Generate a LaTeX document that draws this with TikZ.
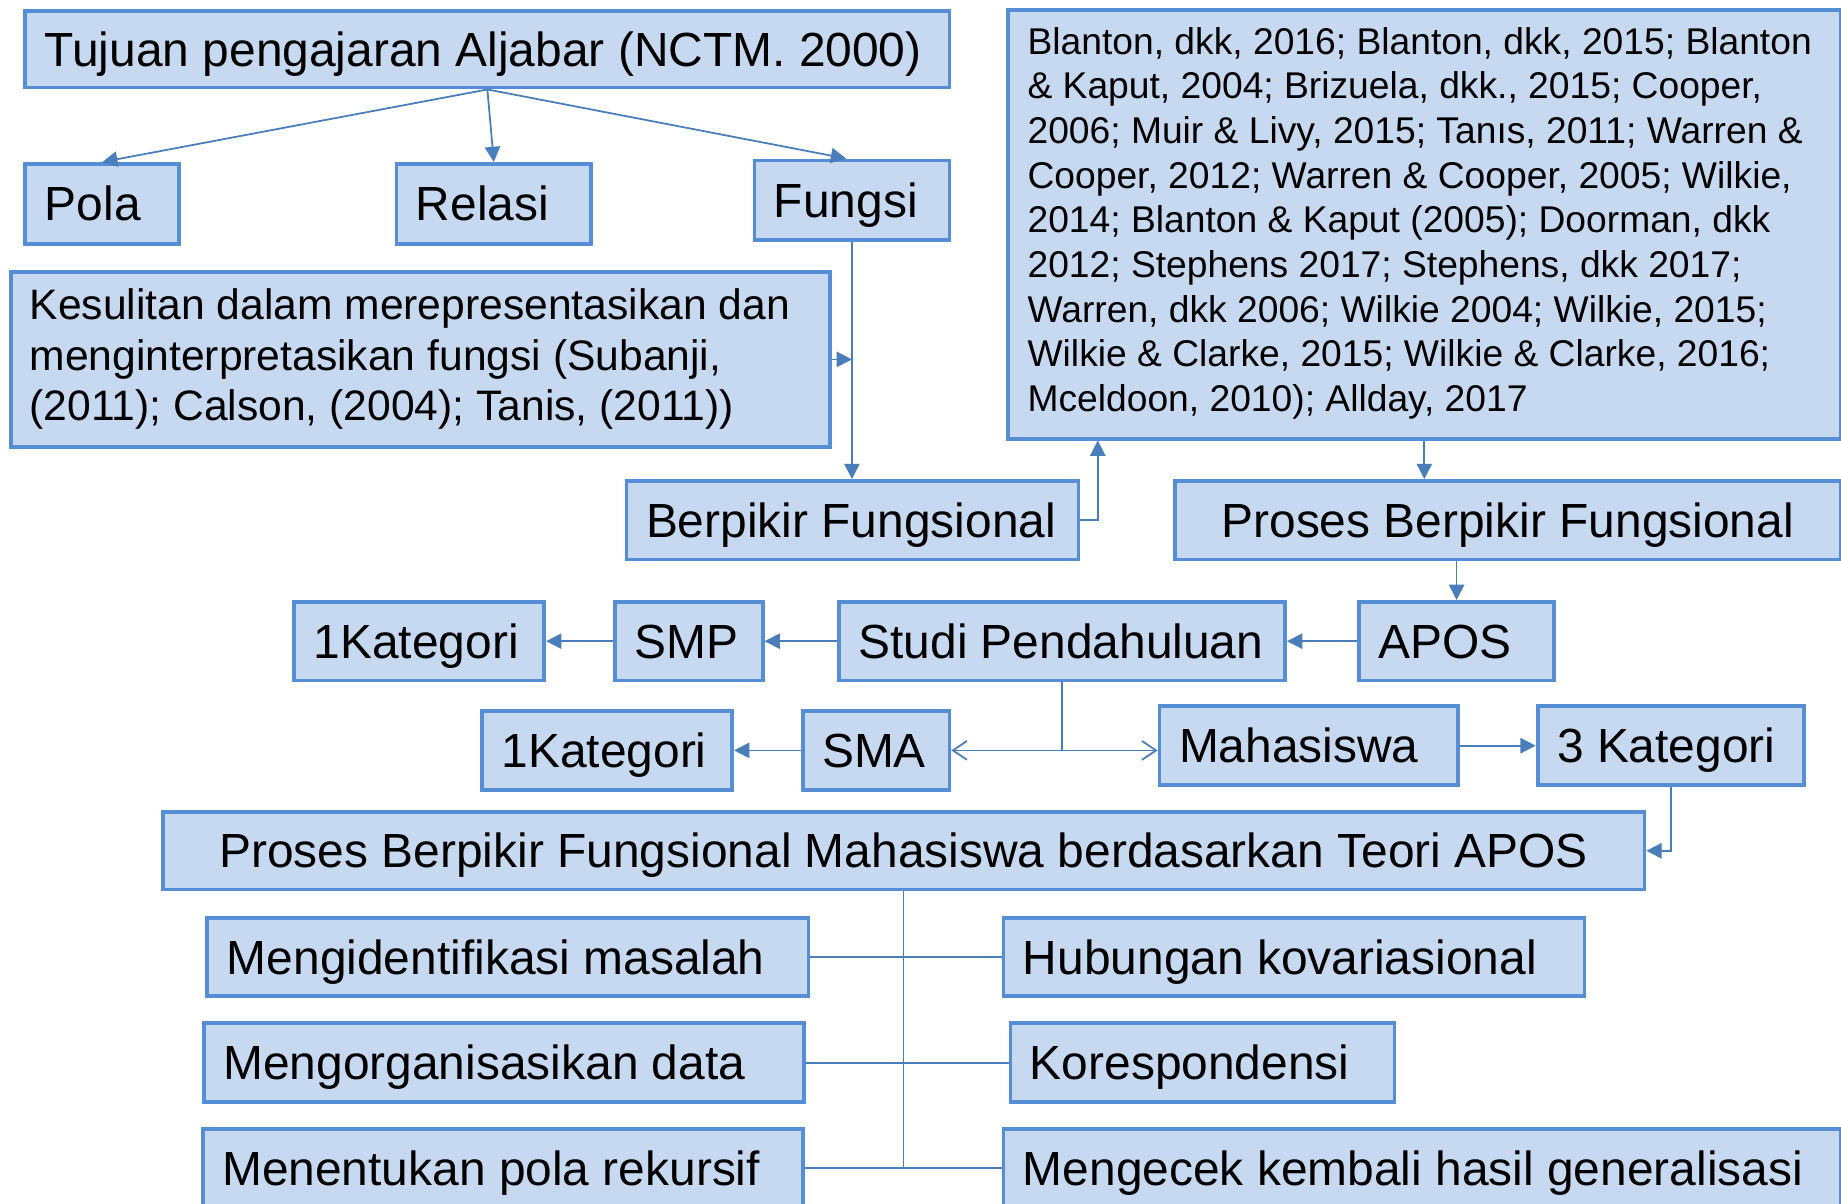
\documentclass[tikz,border=0pt]{standalone}
\usepackage{fontspec}
\setmainfont{Liberation Sans}
\usetikzlibrary{arrows.meta}
\definecolor{bordc}{HTML}{558ED5}
\definecolor{fillc}{HTML}{C6D9F1}
\definecolor{linec}{HTML}{4A7EBB}
\tikzset{
  bx/.style={draw=bordc, fill=fillc, line width=3.2pt, rectangle, anchor=north west, inner sep=0pt},
  lbl/.style={inner sep=0pt, font=\fontsize{40.8}{48}\selectfont},
  ln/.style={draw=linec, line width=1.5pt},
  arr/.style={ln, -{Triangle[length=13pt,width=13pt]}},
  oarr/.style={ln, -{Straight Barb[length=12pt,width=16pt]}}
}
% name, x, y, w, h, text  (left-aligned label)
\newcommand\bxl[6]{%
  \node[bx,minimum width=#4pt,minimum height=#5pt] (#1) at (#2,#3) {};
  \node[lbl,anchor=base west] (#1t) at ([xshift=18pt,yshift=-14.5pt]#1.west) {#6};}
% centred label
\newcommand\bxc[6]{%
  \node[bx,minimum width=#4pt,minimum height=#5pt] (#1) at (#2,#3) {};
  \node[lbl,anchor=base] (#1t) at ([yshift=-14.5pt]#1.center) {#6};}
\begin{document}
\begin{tikzpicture}[x=1pt,y=-1pt]
\useasboundingbox (0,0) rectangle (1568,1025);
\fill[white] (0,0) rectangle (1568,1025);
% top
\bxl{tuj}{20}{8}{787}{65}{Tujuan pengajaran Aljabar (NCTM. 2000)}
\bxl{pola}{20}{138}{131}{68}{Pola}
\bxl{rel}{336}{138}{166}{68}{Relasi}
\bxl{fun}{641}{135}{166}{68}{Fungsi}
\node[bx,minimum width=697pt,minimum height=149pt] (kes) at (8,230) {};
\node[lbl,anchor=west,align=left,font=\fontsize{36.3}{43}\selectfont] (kest) at ([xshift=17pt]kes.west)
  {Kesulitan dalam merepresentasikan dan\\menginterpretasikan fungsi (Subanji,\\(2011); Calson, (2004); Tanis, (2011))};
\node[bx,minimum width=709pt,minimum height=365pt] (refs) at (857,7) {};
\node[lbl,anchor=west,align=left,font=\fontsize{31.7}{38}\selectfont] (refst) at ([xshift=18pt,yshift=1pt]refs.west)
  {Blanton, dkk, 2016; Blanton, dkk, 2015; Blanton\\
   \& Kaput, 2004; Brizuela, dkk., 2015; Cooper,\\
   2006; Muir \& Livy, 2015; Tanıs, 2011; Warren \&\\
   Cooper, 2012; Warren \& Cooper, 2005; Wilkie,\\
   2014; Blanton \& Kaput (2005); Doorman, dkk\\
   2012; Stephens 2017; Stephens, dkk 2017;\\
   Warren, dkk 2006; Wilkie 2004; Wilkie, 2015;\\
   Wilkie \& Clarke, 2015; Wilkie \& Clarke, 2016;\\
   Mceldoon, 2010); Allday, 2017};
\bxl{berp}{532}{408}{385}{67}{Berpikir Fungsional}
\bxc{pbf}{999}{408}{567}{67}{Proses Berpikir Fungsional}
% middle rows
\bxl{kia}{249}{511}{213}{67}{1Kategori}
\bxl{smp}{522}{511}{126}{67}{SMP}
\bxl{studi}{713}{511}{380}{67}{Studi Pendahuluan}
\bxl{apos}{1156}{511}{166}{67}{APOS}
\bxl{kib}{409}{604}{213}{67}{1Kategori}
\bxl{sma}{682}{604}{125}{67}{SMA}
\bxl{maha}{986}{600}{254}{67}{Mahasiswa}
\bxl{kiii}{1308}{600}{227}{67}{3 Kategori}
\bxc{pm}{137}{690}{1262}{66}{Proses Berpikir Fungsional Mahasiswa berdasarkan Teori APOS}
% bottom
\bxl{mi}{175}{780}{512}{67}{Mengidentifikasi masalah}
\bxl{hk}{853}{780}{495}{67}{Hubungan kovariasional}
\bxl{mo}{172}{870}{511}{67}{Mengorganisasikan data}
\bxl{ko}{859}{870}{327}{67}{Korespondensi}
\bxl{mp}{171}{960}{511}{67}{Menentukan pola rekursif}
\bxl{mk}{853}{960}{713}{67}{Mengecek kembali hasil generalisasi}
% connectors
\draw[arr] (tuj.south) -- (pola.north);
\draw[arr] (tuj.south) -- (rel.north);
\draw[arr] (tuj.south) -- ([xshift=-5pt]fun.north);
\draw[arr] (fun.south) -- (fun.south |- berp.north);
\draw[arr] (kes.east) -- (kes.east -| fun.south);
\draw[arr] (berp.east) -| ([xshift=78pt]refs.south west);
\draw[arr] (refs.south) -- (refs.south |- pbf.north);
\draw[arr] (apos.north |- pbf.south) -- (apos.north);
\draw[arr] (apos.west) -- (studi.east);
\draw[arr] (studi.west) -- (smp.east);
\draw[arr] (smp.west) -- (kia.east);
\draw[oarr] (studi.south) |- (sma.east);
\draw[oarr] (studi.south |- sma.east) -- (maha.west |- sma.east);
\draw[arr] (sma.west) -- (kib.east);
\draw[arr] (maha.east) -- (kiii.west);
\draw[arr] (kiii.south) |- (pm.east);
\draw[ln] (pm.south) -- (pm.south |- mp.east);
\draw[ln] (mi.east) -- (hk.west);
\draw[ln] (mo.east) -- (ko.west);
\draw[ln] (mp.east) -- (mk.west);
\end{tikzpicture}
\end{document}
